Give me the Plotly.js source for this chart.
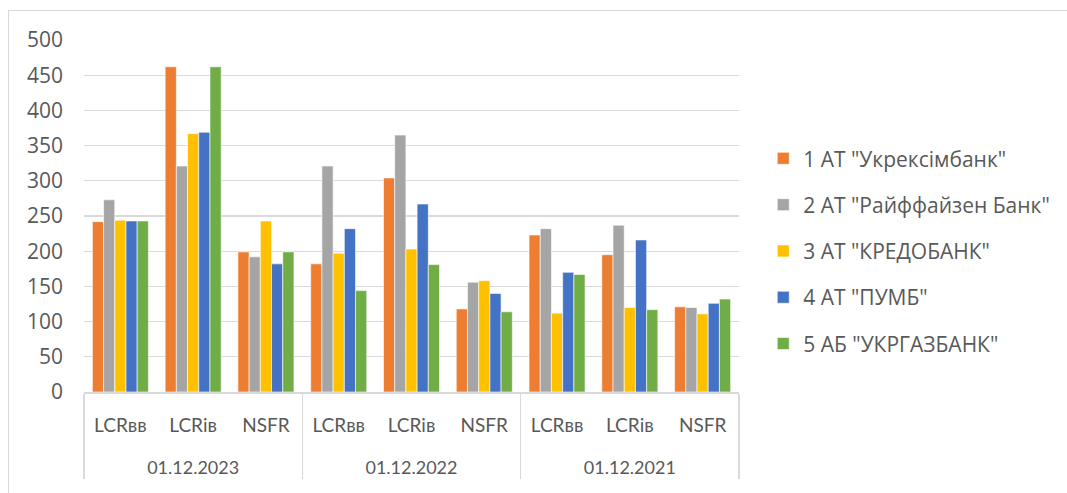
<!DOCTYPE html>
<html>
<head>
<meta charset="utf-8">
<script src="https://cdn.plot.ly/plotly-3.0.1.min.js"></script>
<style>
html,body{margin:0;padding:0;background:#fff;}
#frame{position:absolute;left:8px;top:10px;width:1100px;height:520px;border:1.5px solid #d9d9d9;box-sizing:border-box;}
#chart{position:absolute;left:0;top:0;width:1067px;height:493px;}
</style>
</head>
<body>
<div id="frame"></div>
<div id="chart"></div>
<script>
const dates = ["01.12.2023","01.12.2023","01.12.2023","01.12.2022","01.12.2022","01.12.2022","01.12.2021","01.12.2021","01.12.2021"];
const ratios = ["LCRвв","LCRів","NSFR","LCRвв","LCRів","NSFR","LCRвв","LCRів","NSFR"];
const banks = ['1 АТ "Укрексімбанк"','2 АТ "Райффайзен Банк"','3 АТ "КРЕДОБАНК"','4 АТ "ПУМБ"','5 АБ "УКРГАЗБАНК"'];
const colors = ["#ed7d31","#a5a5a5","#ffc000","#4472c4","#70ad47"];
const ukreximbank = [242,462,199,182,304,118,223,195,121];
const raiffeisen  = [273,321,192,321,365,156,232,237,120];
const kredobank   = [244,367,243,197,203,158,112,120,111];
const pumb        = [243,369,182,232,267,140,170,216,126];
const ukrgasbank  = [243,462,199,144,181,114,167,117,132];
const series = [ukreximbank, raiffeisen, kredobank, pumb, ukrgasbank];

const wide = "'Open Sans', 'Noto Sans', sans-serif";
const narrow = "Lato, 'Open Sans', sans-serif";
const subLabels = ratios.map(r => '<span style="font-size:19px">' + r + '</span><br> ');
const topLabels = dates.map(d => '<span style="font-size:18px">' + d + '</span>');
const traces = series.map((vals,i)=>({
  type:'bar',
  name: banks[i],
  x:[topLabels, subLabels],
  y: vals,
  marker:{color:colors[i], line:{color:'#ffffff', width:0.6}},
  legendgroup:'g'+i,
  hoverinfo:'y'
}));

const layout = {
  width:1067, height:493,
  margin:{l:84, r:325, t:40, b:101},
  paper_bgcolor:'rgba(0,0,0,0)',
  plot_bgcolor:'rgba(0,0,0,0)',
  font:{family:wide, size:21, color:'#595959'},
  barmode:'group',
  bargap:0.23,
  bargroupgap:0,
  showlegend:true,
  legend:{x:1.037, y:0.40, yanchor:'middle', xanchor:'left', tracegroupgap:16, traceorder:'grouped',
          font:{family:wide, size:21, color:'#595959'}, bgcolor:'rgba(0,0,0,0)'},
  xaxis:{type:'multicategory', showline:true, linecolor:'#d9d9d9', linewidth:1.5,
         showdividers:true, dividercolor:'#d9d9d9', dividerwidth:1.5,
         ticklabelstandoff:12,
         tickfont:{family:narrow, size:22, color:'#595959'}, ticks:'', fixedrange:true},
  yaxis:{range:[0,500], dtick:50, tick0:0, showgrid:true, gridcolor:'#d9d9d9', gridwidth:1.3,
         zeroline:false, showline:false, ticks:'', ticklabelstandoff:20,
         tickfont:{family:wide, size:21, color:'#595959'}, fixedrange:true}
};
Plotly.newPlot('chart', traces, layout, {displayModeBar:false, staticPlot:true});
</script>
</body>
</html>
